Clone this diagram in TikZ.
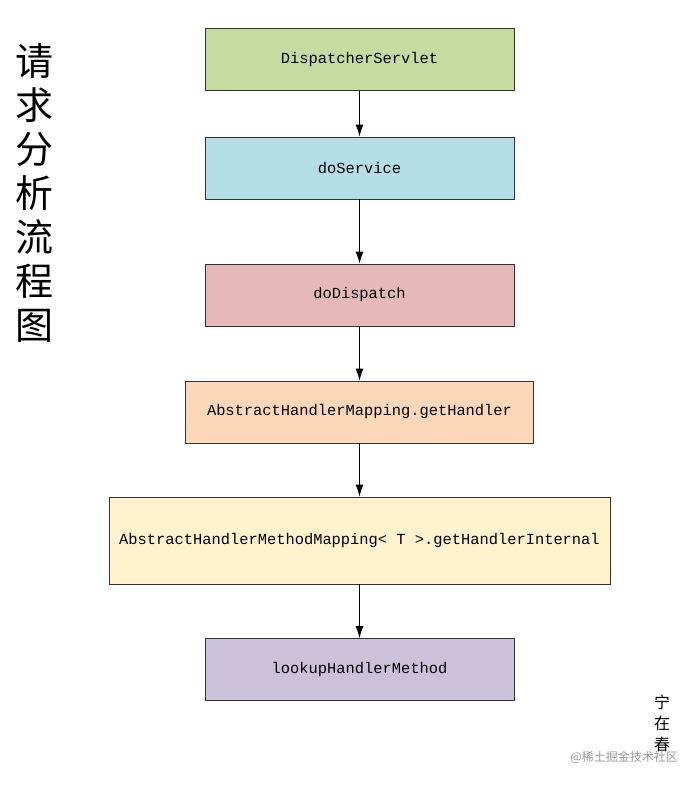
\documentclass[tikz,border=0pt]{standalone}
\usetikzlibrary{arrows.meta}
\usepackage{fontspec}
\setmonofont{Liberation Mono}
\newfontfamily\cjk{Noto Sans CJK SC}
\begin{document}
\begin{tikzpicture}[x=1pt,y=-1pt,
  box/.style={draw=black!80,line width=0.8pt,minimum height=62pt,inner sep=0pt,font=\ttfamily\fontsize{15.4}{18}\selectfont},
  arr/.style={-{Latex[length=12pt,width=8pt]},line width=1pt}]
\useasboundingbox (0,0) rectangle (698,786);
\fill[white] (0,0) rectangle (698,786);
\definecolor{cg}{HTML}{C6DBA0}\definecolor{cb}{HTML}{B4DEE8}\definecolor{cp}{HTML}{E6B9B8}
\definecolor{co}{HTML}{FCD7B8}\definecolor{cy}{HTML}{FFF2CC}\definecolor{cl}{HTML}{CCC1DA}
\node[box,fill=cg,minimum width=309pt] (a) at (359.5,59.5) {DispatcherServlet};
\node[box,fill=cb,minimum width=309pt] (b) at (359.5,168) {doService};
\node[box,fill=cp,minimum width=309pt] (c) at (359.5,295) {doDispatch};
\node[box,fill=co,minimum width=348pt] (d) at (359.5,412) {AbstractHandlerMapping.getHandler};
\node[box,fill=cy,minimum width=501pt,minimum height=87pt] (e) at (359.5,540.5) {AbstractHandlerMethodMapping< T >.getHandlerInternal};
\node[box,fill=cl,minimum width=309pt] (f) at (359.5,669.5) {lookupHandlerMethod};
\draw[arr] (a) -- (b); \draw[arr] (b) -- (c); \draw[arr] (c) -- (d);
\draw[arr] (d) -- (e); \draw[arr] (e) -- (f);
\node[font=\cjk\fontsize{38}{44}\selectfont,align=center,inner sep=0pt] (t) at (35,193) {请\\求\\分\\析\\流\\程\\图};
\node[font=\cjk\fontsize{16}{21}\selectfont,align=center,inner sep=0pt] (s) at (662,723) {宁\\在\\春};
\node[font=\cjk\fontsize{12}{14}\selectfont,text=black!40,inner sep=0pt,anchor=east] (w) at (678,757) {@稀土掘金技术社区};
\end{tikzpicture}
\end{document}
